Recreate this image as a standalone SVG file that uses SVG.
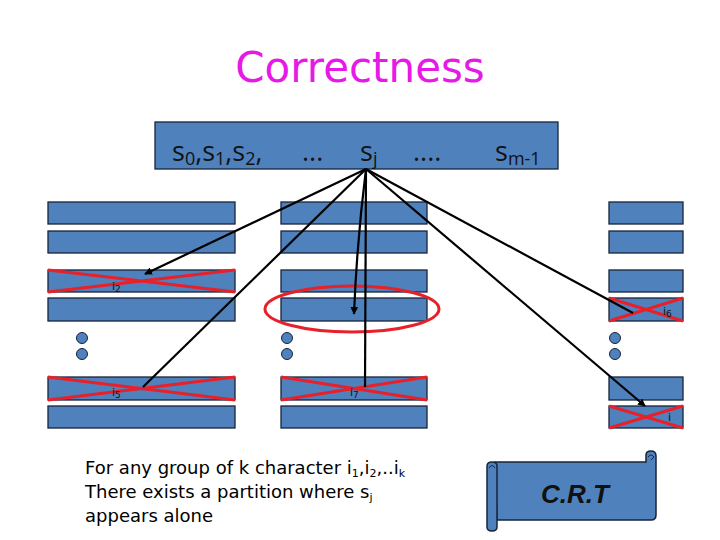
<svg xmlns="http://www.w3.org/2000/svg" width="720" height="540" viewBox="0 0 720 540">
<style>
.bar{fill:#4f81bd;stroke:#17243a;stroke-width:1.3}
.dot{fill:#4f81bd;stroke:#17243a;stroke-width:1}
.x{stroke:#e8202a;stroke-width:3;fill:none}
.ln{stroke:#000;stroke-width:2.2;fill:none}
.lbl{font-family:"DejaVu Sans",sans-serif;font-size:11px;fill:#111}
.top{font-family:"Open Sans","DejaVu Sans",sans-serif;font-size:27px;fill:#111}
.sub{font-size:18px}
.body{font-family:"DejaVu Sans",sans-serif;font-size:18px;fill:#000}
.bsub{font-size:11px}
</style>
<defs>
<marker id="ah" viewBox="0 0 10 10" refX="9" refY="5" markerWidth="3.5" markerHeight="3.5" orient="auto"><path d="M0,0 L10,5 L0,10 z" fill="#000"/></marker>
</defs>
<rect width="720" height="540" fill="#fff"/>
<text id="title" x="360" y="82" text-anchor="middle" font-family="DejaVu Sans,sans-serif" font-size="42" fill="#e619e6">Correctness</text>

<g id="topbar">
<rect class="bar" x="155" y="122" width="403" height="47"/>
<text class="top" x="172" y="161">s<tspan class="sub" dy="4">0</tspan><tspan dy="-4">,s</tspan><tspan class="sub" dy="4">1</tspan><tspan dy="-4">,s</tspan><tspan class="sub" dy="4">2</tspan><tspan dy="-4">,</tspan></text>
<text class="top" x="302" y="161">...</text>
<text class="top" x="360" y="161">s<tspan class="sub" dy="4">j</tspan></text>
<text class="top" x="413" y="161">....</text>
<text class="top" x="495" y="161">s<tspan class="sub" dy="4">m-1</tspan></text>
</g>

<g id="col-left">
<rect class="bar" x="48" y="202" width="187" height="22"/>
<rect class="bar" x="48" y="231" width="187" height="22"/>
<rect class="bar" x="48" y="270" width="187" height="22"/>
<path class="x" d="M48,270 L235,292 M48,292 L235,270"/>
<text class="lbl" x="112" y="290">i<tspan font-size="9" dy="2">2</tspan></text>
<rect class="bar" x="48" y="298" width="187" height="23"/>
<circle class="dot" cx="82" cy="338" r="5.5"/>
<circle class="dot" cx="82" cy="354" r="5.5"/>
<rect class="bar" x="48" y="377" width="187" height="23"/>
<path class="x" d="M48,377 L235,400 M48,400 L235,377"/>
<text class="lbl" x="112" y="396">i<tspan font-size="9" dy="2">5</tspan></text>
<rect class="bar" x="48" y="406" width="187" height="22"/>
</g>

<g id="col-mid">
<rect class="bar" x="281" y="202" width="146" height="22"/>
<rect class="bar" x="281" y="231" width="146" height="22"/>
<rect class="bar" x="281" y="270" width="146" height="22"/>
<rect class="bar" x="281" y="298" width="146" height="23"/>
<circle class="dot" cx="287" cy="338" r="5.5"/>
<circle class="dot" cx="287" cy="354" r="5.5"/>
<rect class="bar" x="281" y="377" width="146" height="23"/>
<path class="x" d="M281,377 L427,400 M281,400 L427,377"/>
<text class="lbl" x="350" y="396">i<tspan font-size="9" dy="2">7</tspan></text>
<rect class="bar" x="281" y="406" width="146" height="22"/>
<ellipse cx="352" cy="309" rx="87" ry="23" fill="none" stroke="#e8202a" stroke-width="3"/>
</g>

<g id="col-right">
<rect class="bar" x="609" y="202" width="74" height="22"/>
<rect class="bar" x="609" y="231" width="74" height="22"/>
<rect class="bar" x="609" y="270" width="74" height="22"/>
<rect class="bar" x="609" y="298" width="74" height="23"/>
<path class="x" d="M609,298 L683,321 M609,321 L683,298"/>
<text class="lbl" x="663" y="315">i<tspan font-size="9" dy="2">6</tspan></text>
<circle class="dot" cx="615" cy="338" r="5.5"/>
<circle class="dot" cx="615" cy="354" r="5.5"/>
<rect class="bar" x="609" y="377" width="74" height="23"/>
<rect class="bar" x="609" y="406" width="74" height="22"/>
<path class="x" d="M609,406 L683,428 M609,428 L683,406"/>
<text class="lbl" x="668" y="421">i</text>
</g>

<g id="connectors">
<line class="ln" x1="366" y1="169" x2="145" y2="274" marker-end="url(#ah)"/>
<line class="ln" x1="366" y1="169" x2="143" y2="387"/>
<path class="ln" d="M366,169 Q357,240 354,314" marker-end="url(#ah)"/>
<line class="ln" x1="366" y1="169" x2="365" y2="387"/>
<line class="ln" x1="366" y1="169" x2="633" y2="313"/>
<line class="ln" x1="366" y1="169" x2="645" y2="406" marker-end="url(#ah)"/>
</g>

<g id="note">
<text class="body" x="85" y="474">For any group of k character i<tspan class="bsub" dy="3">1</tspan><tspan dy="-3">,i</tspan><tspan class="bsub" dy="3">2</tspan><tspan dy="-3">,..i</tspan><tspan class="bsub" dy="3">k</tspan></text>
<text class="body" x="85" y="498">There exists a partition where s<tspan class="bsub" dy="3">j</tspan></text>
<text class="body" x="85" y="522">appears alone</text>
</g>

<g id="crt">
<path d="M495,462 L646,462 L646,455 Q646,451 651,451 Q656,451 656,456 L656,515 Q656,520 651,520 L497,520 Z" fill="#4f81bd" stroke="#17243a" stroke-width="1.5"/>
<path d="M487,466 Q487,462 492,462 Q497,462 497,466 L497,527 Q497,531 492,531 Q487,531 487,527 Z" fill="#4f81bd" stroke="#17243a" stroke-width="1.5"/>
<path d="M489,468 Q492,463 495,468" fill="none" stroke="#17243a" stroke-width="1"/>
<path d="M648,457 Q651,453 654,457 L651,460" fill="none" stroke="#17243a" stroke-width="1"/>
<text x="575" y="503" text-anchor="middle" font-family="Liberation Sans,sans-serif" font-size="26" font-weight="bold" font-style="italic" fill="#111">C.R.T</text>
</g>
</svg>
